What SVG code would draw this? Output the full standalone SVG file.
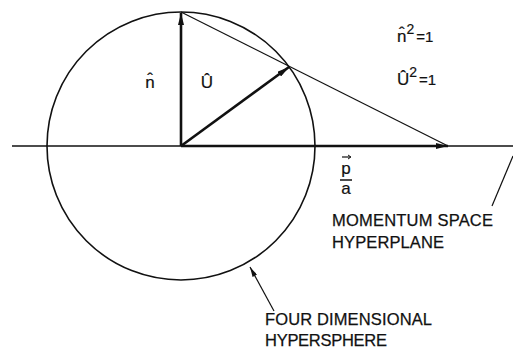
<svg xmlns="http://www.w3.org/2000/svg" width="513" height="354" viewBox="0 0 513 354">
<style>
.t{font-family:"Liberation Sans",Arial,sans-serif;font-size:16.5px;fill:#111;stroke:#111;stroke-width:0.25}
.s{font-family:"Liberation Sans",Arial,sans-serif;fill:#111;stroke:#111;stroke-width:0.2}
.thin{stroke:#111;stroke-width:1.2;fill:none}
.vec{stroke:#111;stroke-width:2.6;fill:none}
</style>
<defs>
<marker id="ah" viewBox="0 0 12 6" refX="12" refY="3" markerWidth="12" markerHeight="6" markerUnits="userSpaceOnUse" orient="auto">
<path d="M0,0 L12,3 L0,6 Z" fill="#111"/>
</marker>
<marker id="ahs" viewBox="0 0 12 6" refX="12" refY="3" markerWidth="11" markerHeight="5" markerUnits="userSpaceOnUse" orient="auto">
<path d="M0,0 L12,3 L0,6 Z" fill="#111"/>
</marker>
</defs>
<rect width="513" height="354" fill="#fff"/>
<g id="hypersphere">
<circle cx="181" cy="146" r="134" fill="none" stroke="#111" stroke-width="1.6"/>
</g>
<g id="hyperplane">
<line x1="12" y1="146" x2="513" y2="146" stroke="#111" stroke-width="1.3"/>
</g>
<g id="connectors">
<line class="thin" x1="181" y1="12" x2="448" y2="146"/>
<line class="vec" x1="181" y1="146" x2="181" y2="13" marker-end="url(#ah)"/>
<line class="vec" x1="181" y1="146" x2="289" y2="67" marker-end="url(#ah)"/>
<line class="vec" x1="181" y1="146" x2="448" y2="146" marker-end="url(#ah)"/>
<line class="thin" x1="513" y1="156" x2="492" y2="206"/>
<line class="thin" x1="274" y1="311" x2="250" y2="267" marker-end="url(#ahs)"/>
</g>
<g id="label-n">
<text class="s" x="150" y="88" font-size="17" text-anchor="middle">n̂</text>
</g>
<g id="label-U">
<text class="s" x="207" y="88" font-size="17" text-anchor="middle">Û</text>
</g>
<g id="eq-n">
<text class="s" x="397" y="42" font-size="17">n̂<tspan font-size="14" dy="-8">2</tspan><tspan font-size="15" dy="8" dx="2">=1</tspan></text>
</g>
<g id="eq-U">
<text class="s" x="397" y="85" font-size="17">Û<tspan font-size="14" dy="-8">2</tspan><tspan font-size="15" dy="8" dx="2">=1</tspan></text>
</g>
<g id="label-pa">
<text class="s" x="346" y="174" font-size="17" text-anchor="middle">p</text>
<line x1="342" y1="157" x2="350" y2="157" stroke="#111" stroke-width="1.2"/>
<path d="M348,155 L351,157 L348,159" fill="none" stroke="#111" stroke-width="1"/>
<line x1="340" y1="180" x2="352" y2="180" stroke="#111" stroke-width="1.5"/>
<text class="s" x="346" y="194" font-size="17" text-anchor="middle">a</text>
</g>
<g id="label-plane">
<text class="t" x="332" y="226" textLength="161" lengthAdjust="spacing">MOMENTUM SPACE</text>
<text class="t" x="332" y="248" textLength="112" lengthAdjust="spacing">HYPERPLANE</text>
</g>
<g id="label-sphere">
<text class="t" x="265" y="325" textLength="167" lengthAdjust="spacing">FOUR DIMENSIONAL</text>
<text class="t" x="265" y="346" textLength="122" lengthAdjust="spacing">HYPERSPHERE</text>
</g>
</svg>
